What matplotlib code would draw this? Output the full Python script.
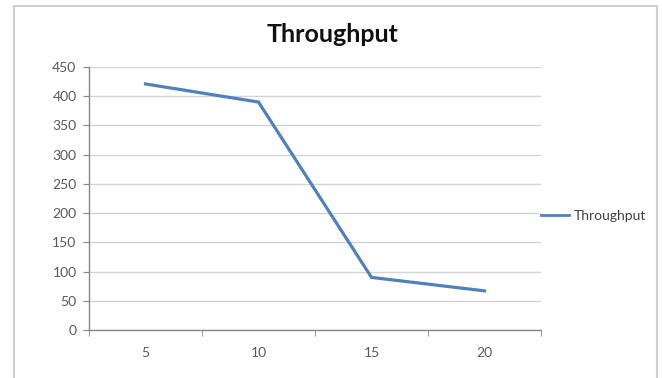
import matplotlib
matplotlib.use("Agg")
import matplotlib.pyplot as plt
from matplotlib.patches import Rectangle

categories = ["5", "10", "15", "20"]
throughput = [421, 390, 90, 67]
yticks = [0, 50, 100, 150, 200, 250, 300, 350, 400, 450]

plt.rcParams['font.family'] = ['Lato', 'DejaVu Sans']

fig = plt.figure(figsize=(6.62, 3.78), dpi=100)
fig.patches.append(Rectangle((14/662, -0.1), (657-14)/662, 1.1 - 6/378,
                             transform=fig.transFigure, fill=False,
                             edgecolor='#d0d0d0', linewidth=1.5))

ax = fig.add_axes([89/662, 1-330/378, (541-89)/662, (330-67)/378])
x = list(range(1, len(categories)+1))
ax.plot(x, throughput, color='#4f81bd', linewidth=2.3, label='Throughput',
        solid_joinstyle='round')
ax.set_xlim(0.5, len(categories)+0.5)
ax.set_ylim(0, 450)
ax.set_yticks(yticks)
ax.set_yticklabels([str(v) for v in yticks])
ax.set_xticks(x)
ax.set_xticklabels(categories)
ax.set_xticks([i+0.5 for i in range(0, len(categories)+1)], minor=True)
ax.tick_params(axis='x', which='major', length=0, pad=12, labelsize=10, colors='#595959')
ax.tick_params(axis='x', which='minor', length=4, color='#868686', direction='out')
ax.tick_params(axis='y', length=4, color='#868686', labelsize=10, labelcolor='#595959', pad=5)
ax.grid(axis='y', color='#d4d4d4', linewidth=1)
ax.set_axisbelow(True)
for s in ['top', 'right']:
    ax.spines[s].set_visible(False)
for s in ['left', 'bottom']:
    ax.spines[s].set_color('#868686')
    ax.spines[s].set_linewidth(1)

fig.text(333/662, 1-35/378, "Throughput", ha='center', va='center',
         fontsize=18, fontweight='bold', color='#111111')

leg = ax.legend(loc='center left', bbox_to_anchor=(0.0, 0.43), frameon=False,
                fontsize=10, handlelength=2.0, handletextpad=0.35, borderaxespad=0,
                borderpad=0)
leg.set_bbox_to_anchor((541/662, 1-216/378), transform=fig.transFigure)
for t in leg.get_texts():
    t.set_color('#404040')
for h in leg.get_lines():
    h.set_linewidth(2)

fig.savefig("out.png", dpi=100)
